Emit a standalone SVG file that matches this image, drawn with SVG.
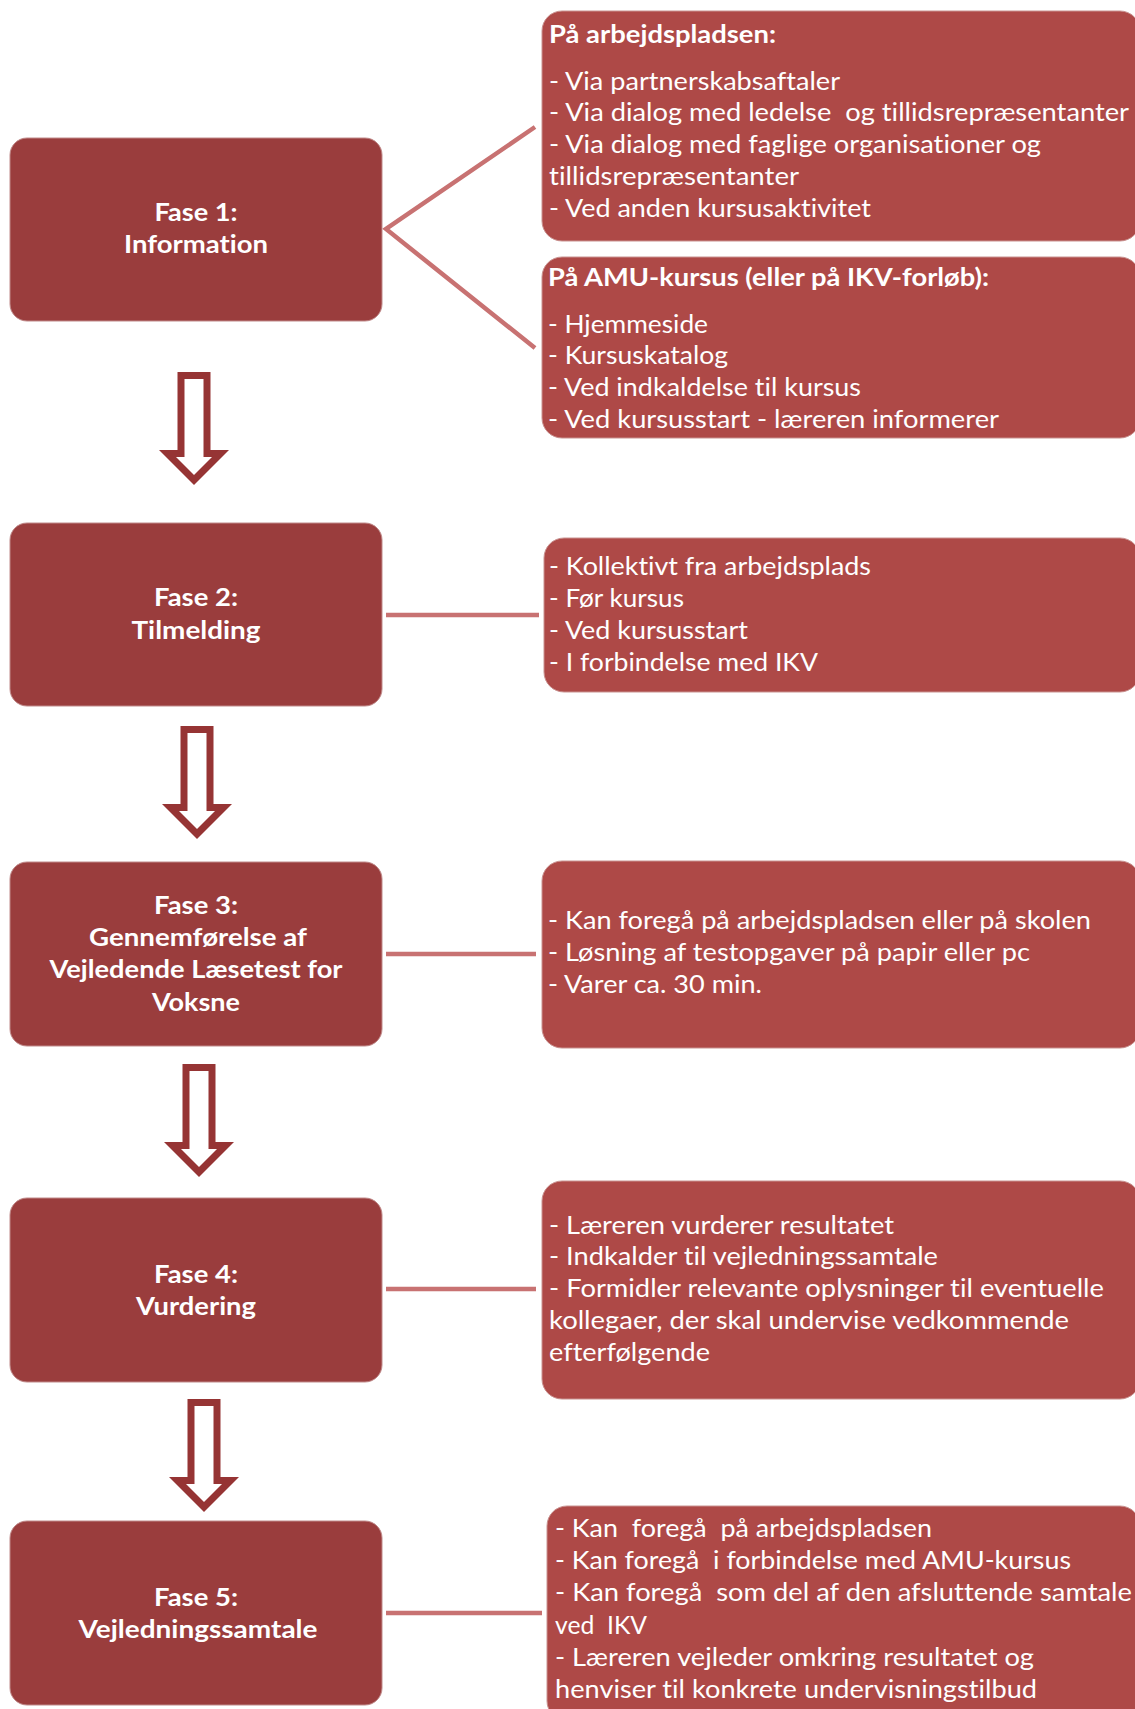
<svg xmlns="http://www.w3.org/2000/svg" width="1135" height="1709" viewBox="0 0 1135 1709">
<style>
.phase{fill:#9A3D3D;stroke:#C08A8A;stroke-width:1}
.info{fill:#AE4947;stroke:#C99290;stroke-width:1}
.pt{font-family:Lato,'Open Sans','Liberation Sans',sans-serif;font-weight:700;font-size:25px;fill:#fff;text-anchor:middle;font-variant-ligatures:none}
.it{font-family:Lato,'Open Sans','Liberation Sans',sans-serif;font-size:25px;fill:#fff;font-variant-ligatures:none}
.ih{font-weight:700}
.conn{stroke:#C87272;stroke-width:4.5;fill:none}
</style>
<defs>
<g id="darrow">
<polygon points="-16.5,0 16.5,0 16.5,78 35,78 0,113 -35,78 -16.5,78" fill="#963434"/>
<polygon points="-9.5,7 9.5,7 9.5,85 18,85 0,103 -18,85 -9.5,85" fill="#fff"/>
</g>
</defs>
<rect width="1135" height="1709" fill="#fff"/>

<g id="connectors">
<polyline class="conn" points="535,127 386,229 535,348"/>
<line class="conn" x1="386" y1="615" x2="539" y2="615"/>
<line class="conn" x1="386" y1="954" x2="536" y2="954"/>
<line class="conn" x1="386" y1="1289" x2="536" y2="1289"/>
<line class="conn" x1="386" y1="1613" x2="542" y2="1613"/>
<use href="#darrow" x="194" y="372"/>
<use href="#darrow" x="197" y="726"/>
<use href="#darrow" x="199" y="1064"/>
<use href="#darrow" x="204" y="1399"/>
</g>

<g id="fase1">
<rect class="phase" x="10" y="138" width="372" height="183" rx="17"/>
<text class="pt" x="196" y="221" textLength="83" lengthAdjust="spacingAndGlyphs">Fase 1:</text>
<text class="pt" x="196" y="253" textLength="144" lengthAdjust="spacingAndGlyphs">Information</text>
</g>
<g id="fase2">
<rect class="phase" x="10" y="523" width="372" height="183" rx="17"/>
<text class="pt" x="196" y="606" textLength="84" lengthAdjust="spacingAndGlyphs">Fase 2:</text>
<text class="pt" x="196" y="639" textLength="129" lengthAdjust="spacingAndGlyphs">Tilmelding</text>
</g>
<g id="fase3">
<rect class="phase" x="10" y="862" width="372" height="184" rx="17"/>
<text class="pt" x="196" y="914" textLength="84" lengthAdjust="spacingAndGlyphs">Fase 3:</text>
<text class="pt" x="198" y="946" textLength="218" lengthAdjust="spacingAndGlyphs">Gennemførelse af</text>
<text class="pt" x="196" y="978" textLength="293" lengthAdjust="spacingAndGlyphs">Vejledende Læsetest for</text>
<text class="pt" x="196" y="1011" textLength="88" lengthAdjust="spacingAndGlyphs">Voksne</text>
</g>
<g id="fase4">
<rect class="phase" x="10" y="1198" width="372" height="184" rx="17"/>
<text class="pt" x="196" y="1283" textLength="84" lengthAdjust="spacingAndGlyphs">Fase 4:</text>
<text class="pt" x="196" y="1315" textLength="120" lengthAdjust="spacingAndGlyphs">Vurdering</text>
</g>
<g id="fase5">
<rect class="phase" x="10" y="1521" width="372" height="184" rx="17"/>
<text class="pt" x="196" y="1606" textLength="84" lengthAdjust="spacingAndGlyphs">Fase 5:</text>
<text class="pt" x="198" y="1638" textLength="239" lengthAdjust="spacingAndGlyphs">Vejledningssamtale</text>
</g>

<g id="info-arbejdsplads">
<rect class="info" x="542" y="11" width="598" height="230" rx="20"/>
<text class="it ih" x="549" y="43" textLength="227" lengthAdjust="spacingAndGlyphs">På arbejdspladsen:</text>
<text class="it" x="549" y="90" textLength="291" lengthAdjust="spacingAndGlyphs">- Via partnerskabsaftaler</text>
<text class="it" x="549" y="121" textLength="580" lengthAdjust="spacingAndGlyphs" xml:space="preserve">- Via dialog med ledelse  og tillidsrepræsentanter</text>
<text class="it" x="549" y="153" textLength="492" lengthAdjust="spacingAndGlyphs">- Via dialog med faglige organisationer og</text>
<text class="it" x="549" y="185" textLength="250" lengthAdjust="spacingAndGlyphs">tillidsrepræsentanter</text>
<text class="it" x="549" y="217" textLength="322" lengthAdjust="spacingAndGlyphs">- Ved anden kursusaktivitet</text>
</g>
<g id="info-amu">
<rect class="info" x="542" y="257" width="598" height="181" rx="20"/>
<text class="it ih" x="548" y="286" textLength="441" lengthAdjust="spacingAndGlyphs">På AMU-kursus (eller på IKV-forløb):</text>
<text class="it" x="548" y="333" textLength="160" lengthAdjust="spacingAndGlyphs">- Hjemmeside</text>
<text class="it" x="548" y="364" textLength="180" lengthAdjust="spacingAndGlyphs">- Kursuskatalog</text>
<text class="it" x="548" y="396" textLength="313" lengthAdjust="spacingAndGlyphs">- Ved indkaldelse til kursus</text>
<text class="it" x="548" y="428" textLength="451" lengthAdjust="spacingAndGlyphs">- Ved kursusstart - læreren informerer</text>
</g>
<g id="info-tilmelding">
<rect class="info" x="544" y="538" width="596" height="154" rx="20"/>
<text class="it" x="549" y="575" textLength="322" lengthAdjust="spacingAndGlyphs">- Kollektivt fra arbejdsplads</text>
<text class="it" x="549" y="607" textLength="135" lengthAdjust="spacingAndGlyphs">- Før kursus</text>
<text class="it" x="549" y="639" textLength="199" lengthAdjust="spacingAndGlyphs">- Ved kursusstart</text>
<text class="it" x="549" y="671" textLength="269" lengthAdjust="spacingAndGlyphs">- I forbindelse med IKV</text>
</g>
<g id="info-test">
<rect class="info" x="542" y="861" width="598" height="187" rx="20"/>
<text class="it" x="548" y="929" textLength="543" lengthAdjust="spacingAndGlyphs">- Kan foregå på arbejdspladsen eller på skolen</text>
<text class="it" x="548" y="961" textLength="482" lengthAdjust="spacingAndGlyphs">- Løsning af testopgaver på papir eller pc</text>
<text class="it" x="548" y="993" textLength="214" lengthAdjust="spacingAndGlyphs">- Varer ca. 30 min.</text>
</g>
<g id="info-vurdering">
<rect class="info" x="542" y="1181" width="598" height="218" rx="20"/>
<text class="it" x="549" y="1234" textLength="345" lengthAdjust="spacingAndGlyphs">- Læreren vurderer resultatet</text>
<text class="it" x="549" y="1265" textLength="389" lengthAdjust="spacingAndGlyphs">- Indkalder til vejledningssamtale</text>
<text class="it" x="549" y="1297" textLength="555" lengthAdjust="spacingAndGlyphs">- Formidler relevante oplysninger til eventuelle</text>
<text class="it" x="549" y="1329" textLength="520" lengthAdjust="spacingAndGlyphs">kollegaer, der skal undervise vedkommende</text>
<text class="it" x="549" y="1361" textLength="161" lengthAdjust="spacingAndGlyphs">efterfølgende</text>
</g>
<g id="info-samtale">
<rect class="info" x="547" y="1506" width="593" height="215" rx="20"/>
<text class="it" x="555" y="1537" textLength="377" lengthAdjust="spacingAndGlyphs" xml:space="preserve">- Kan  foregå  på arbejdspladsen</text>
<text class="it" x="555" y="1569" textLength="516" lengthAdjust="spacingAndGlyphs" xml:space="preserve">- Kan foregå  i forbindelse med AMU-kursus</text>
<text class="it" x="555" y="1601" textLength="577" lengthAdjust="spacingAndGlyphs" xml:space="preserve">- Kan foregå  som del af den afsluttende samtale</text>
<text class="it" x="555" y="1634" textLength="92" lengthAdjust="spacingAndGlyphs" xml:space="preserve">ved  IKV</text>
<text class="it" x="555" y="1666" textLength="479" lengthAdjust="spacingAndGlyphs">- Læreren vejleder omkring resultatet og</text>
<text class="it" x="555" y="1698" textLength="482" lengthAdjust="spacingAndGlyphs">henviser til konkrete undervisningstilbud</text>
</g>
</svg>
